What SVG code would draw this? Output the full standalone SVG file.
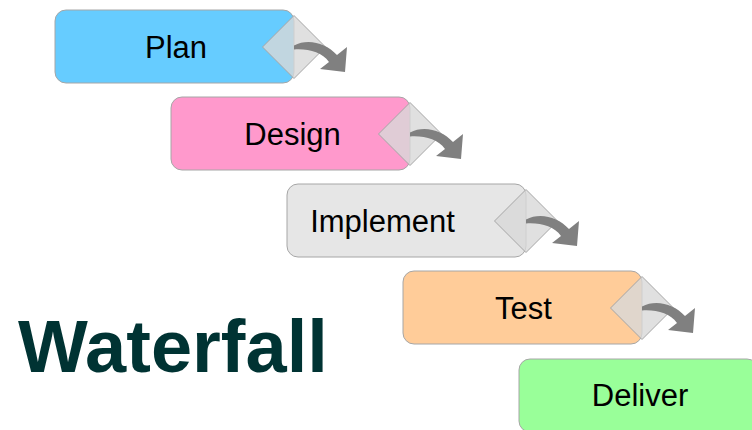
<svg xmlns="http://www.w3.org/2000/svg" width="752" height="430" viewBox="0 0 752 430">
<style>
.box{stroke:#a6a6a6;stroke-width:1}
.fold{fill:#d8d8d8;fill-opacity:0.8;stroke:#a6a6a6;stroke-width:1}
.arr{fill:#808080}
.lbl{font-family:"Liberation Sans",Arial,sans-serif;font-size:31px;fill:#000;text-anchor:middle}
.title{font-family:"Liberation Sans",Arial,sans-serif;font-size:74px;font-weight:bold;fill:#003333}
</style>
<defs>
<g id="foldArrow">
<polygon class="fold" points="-31.5,0 0,-31.5 31.5,0 0,31.5"/>
<path class="arr" d="M0,-1.5 C14,-9 32,-4 43,8 L53,0 L51,25 L26,22 L35,15 C28,5 14,1.5 0,2.5 Z"/>
</g>
</defs>
<rect width="752" height="430" fill="#ffffff"/>
<g id="plan">
<rect class="box" x="55" y="10" width="239" height="73" rx="11" fill="#66ccff"/>
<use href="#foldArrow" x="294" y="47"/>
<text class="lbl" x="176" y="58">Plan</text>
</g>
<g id="design">
<rect class="box" x="171" y="97" width="239" height="73" rx="11" fill="#ff99cc"/>
<use href="#foldArrow" x="410" y="134"/>
<text class="lbl" x="292.5" y="145">Design</text>
</g>
<g id="implement">
<rect class="box" x="287" y="184" width="239" height="73" rx="11" fill="#e6e6e6"/>
<use href="#foldArrow" x="526" y="221"/>
<text class="lbl" x="382.5" y="232">Implement</text>
</g>
<g id="test">
<rect class="box" x="403" y="271" width="239" height="73" rx="11" fill="#ffcc99"/>
<use href="#foldArrow" x="642" y="308"/>
<text class="lbl" x="523.5" y="319">Test</text>
</g>
<g id="deliver">
<rect class="box" x="519" y="359" width="239" height="73" rx="11" fill="#99ff99"/>
<text class="lbl" x="640" y="406">Deliver</text>
</g>
<g id="connectors"></g>
<text class="title" x="18" y="372">Waterfall</text>
</svg>
